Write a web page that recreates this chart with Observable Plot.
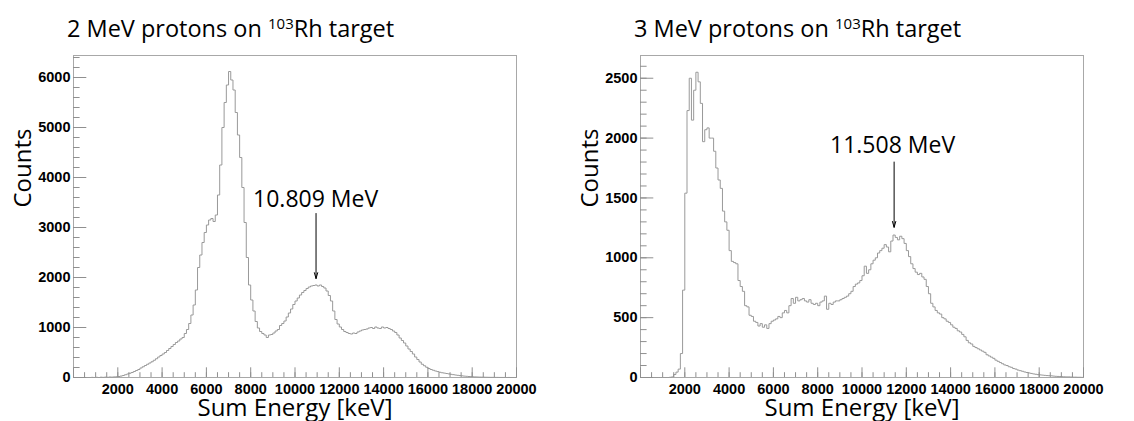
<!DOCTYPE html>
<html>
<head>
<meta charset="utf-8">
<script src="https://cdn.jsdelivr.net/npm/d3@7"></script>
<script src="https://cdn.jsdelivr.net/npm/@observablehq/plot@0.6"></script>
<style>
  html, body { margin: 0; padding: 0; background: white; }
  #wrap { position: relative; width: 1134px; height: 421px; overflow: hidden; }
  #wrap > div, #wrap > svg { position: absolute; top: 0; }
</style>
</head>
<body>
<div id="wrap"></div>
<script>
// Histogram bins: 100 keV wide, starting at 0 keV (bin i covers i*100 .. i*100+100 keV)
const binWidth = 100;

// 2 MeV protons on 103Rh target — counts per bin
const counts2MeV = [
  0,0,0,0,0,0,0,0,3,0,
  4,0,6,3,8,5,10,8,12,15,
  20,28,40,55,70,85,100,120,140,160,
  190,215,240,265,290,315,345,375,410,440,
  470,500,540,580,620,660,700,730,770,800,
  880,960,1080,1250,1450,1750,2200,2450,2700,2900,
  3050,3150,3180,3120,3250,3650,4250,5000,5500,5850,
  6120,5950,5750,5300,4850,4400,3800,3100,2400,1850,
  1550,1330,1120,990,920,880,850,800,850,860,
  890,930,960,1040,1080,1130,1210,1290,1370,1460,
  1530,1590,1650,1700,1740,1780,1810,1830,1840,1850,
  1830,1850,1820,1790,1730,1640,1530,1330,1160,1070,
  1010,960,920,900,880,870,890,880,910,930,
  950,960,970,990,1000,980,1010,990,980,1010,
  990,1000,980,960,930,900,850,790,740,690,
  630,570,520,470,410,360,310,265,235,205,
  180,160,145,130,118,105,95,88,80,72,
  64,57,50,44,38,33,28,24,20,17,
  14,12,10,8,7,6,5,4,3,3,
  2,2,1,1,1,0,1,0,0,0
];

// 3 MeV protons on 103Rh target — counts per bin
const counts3MeV = [
  0,0,0,0,0,0,0,0,0,0,
  0,0,0,2,5,25,45,70,200,730,
  1540,2230,2500,2150,2400,2550,2470,2290,1970,2070,
  2085,2000,2000,1890,1750,1650,1580,1390,1300,1230,
  1060,970,960,950,810,760,720,600,590,520,
  510,470,460,430,450,420,440,410,450,470,
  480,490,510,500,540,560,540,600,660,620,
  670,640,650,660,640,630,650,620,610,620,
  600,630,640,680,570,620,610,630,640,640,
  650,660,670,680,700,720,760,780,790,810,
  850,930,870,900,950,980,1000,1040,1060,1080,
  1110,1090,1050,1140,1190,1170,1150,1180,1160,1120,
  1060,1010,950,910,880,860,870,840,820,760,
  700,620,590,560,540,530,500,490,470,460,
  440,420,410,390,380,360,340,310,290,280,
  260,250,240,230,220,210,190,180,170,160,
  145,135,125,115,105,100,90,85,75,70,
  62,57,52,46,42,38,34,30,27,24,
  22,20,18,16,15,14,12,10,9,8,
  7,6,5,5,4,3,3,2,2,1
];

// Axis ticks
const xLabelTicks = [2000,4000,6000,8000,10000,12000,14000,16000,18000,20000];
const xMajorTicks = [0,2000,4000,6000,8000,10000,12000,14000,16000,18000,20000];
const xMinorTicks = d3.range(0, 20001, 500);

const yLabelTicks2 = [0,1000,2000,3000,4000,5000,6000];
const yMinorTicks2 = d3.range(0, 6401, 200);
const yLabelTicks3 = [0,500,1000,1500,2000,2500];
const yMinorTicks3 = d3.range(0, 2601, 100);

// Titles and annotations
const titles = [["2 MeV protons on ", "103", "Rh target"], ["3 MeV protons on ", "103", "Rh target"]];
const peakLabels = ["10.809 MeV", "11.508 MeV"];
const peakLabelX = [10930, 11380];
const peakLabelY = [3420, 1875];
const arrowX = [10950, 11450];
const arrowTop = [3280, 1800];
const arrowTip = [1980, 1255];
const yMaxes = [6440, 2690];

const xTitle = "Sum Energy [keV]";
const yTitle = "Counts";

function panel(idx, vals, yLabels, yMinor) {
  const pts = vals.map((c, i) => ({e: i * binWidth, c}));
  pts.push({e: vals.length * binWidth, c: vals[vals.length - 1]});
  const ann = [{x: peakLabelX[idx], y: peakLabelY[idx], t: peakLabels[idx], ax: arrowX[idx], y1: arrowTop[idx], y2: arrowTip[idx]}];
  const tickStroke = "#8f8f8f";
  const lab = {fontSize: 14.5, fontWeight: "bold", fontFamily: "Liberation Sans, Arial, sans-serif", fill: "black", stroke: "none"};
  const tk = {fill: "none", stroke: tickStroke, label: null};
  const chart = Plot.plot({
    width: 567, height: 421,
    marginLeft: 73, marginRight: 51, marginTop: 55, marginBottom: 44,
    x: {domain: [0, 20000], label: null},
    y: {domain: [0, yMaxes[idx]], label: null},
    style: {background: "white", overflow: "visible"},
    marks: [
      Plot.frame({stroke: "#a8a8a8"}),
      Plot.line(pts, {x: "e", y: "c", curve: "step-after", stroke: "#999999", strokeWidth: 1}),
      Plot.axisX({ticks: xMinorTicks, tickSize: -4.8, ...tk}),
      Plot.axisX({ticks: xMajorTicks, tickSize: -9.7, ...tk}),
      Plot.axisX({ticks: xLabelTicks, tickSize: 0, tickPadding: 6, tickFormat: d3.format("d"), label: null, ...lab}),
      Plot.axisY({ticks: yMinor, tickSize: -6.6, ...tk}),
      Plot.axisY({ticks: yLabels, tickSize: -13.3, ...tk}),
      Plot.axisY({ticks: yLabels, tickSize: 0, tickPadding: 3, tickFormat: d3.format("d"), label: null, ...lab}),
      Plot.text([xTitle], {frameAnchor: "bottom", dy: 38, lineAnchor: "bottom", fontSize: 24, fontFamily: "Open Sans", fill: "black"}),
      Plot.text([yTitle], {frameAnchor: "left", dx: -50, dy: -9, rotate: -90, fontSize: 24, fontFamily: "Open Sans", fill: "black"}),
      Plot.text(ann, {x: "x", y: "y", text: "t", lineAnchor: "bottom", fontSize: 23, fontFamily: "Open Sans", fill: "black"}),
      Plot.arrow(ann, {x1: "ax", x2: "ax", y1: "y1", y2: "y2", stroke: "black", strokeWidth: 1, headLength: 9, headAngle: 32})
    ]
  });
  const t = d3.select(chart).append("text")
    .attr("x", 67).attr("y", 37)
    .attr("text-anchor", "start")
    .attr("font-family", "Open Sans").attr("font-size", 23.5).attr("fill", "black");
  t.append("tspan").text(titles[idx][0]);
  t.append("tspan").attr("font-size", 15).attr("dy", -8).text(titles[idx][1]);
  t.append("tspan").attr("dy", 8).text(titles[idx][2]);
  chart.style.left = (idx * 567) + "px";
  return chart;
}

const wrap = document.getElementById("wrap");
wrap.appendChild(panel(0, counts2MeV, yLabelTicks2, yMinorTicks2));
wrap.appendChild(panel(1, counts3MeV, yLabelTicks3, yMinorTicks3));
</script>
</body>
</html>
